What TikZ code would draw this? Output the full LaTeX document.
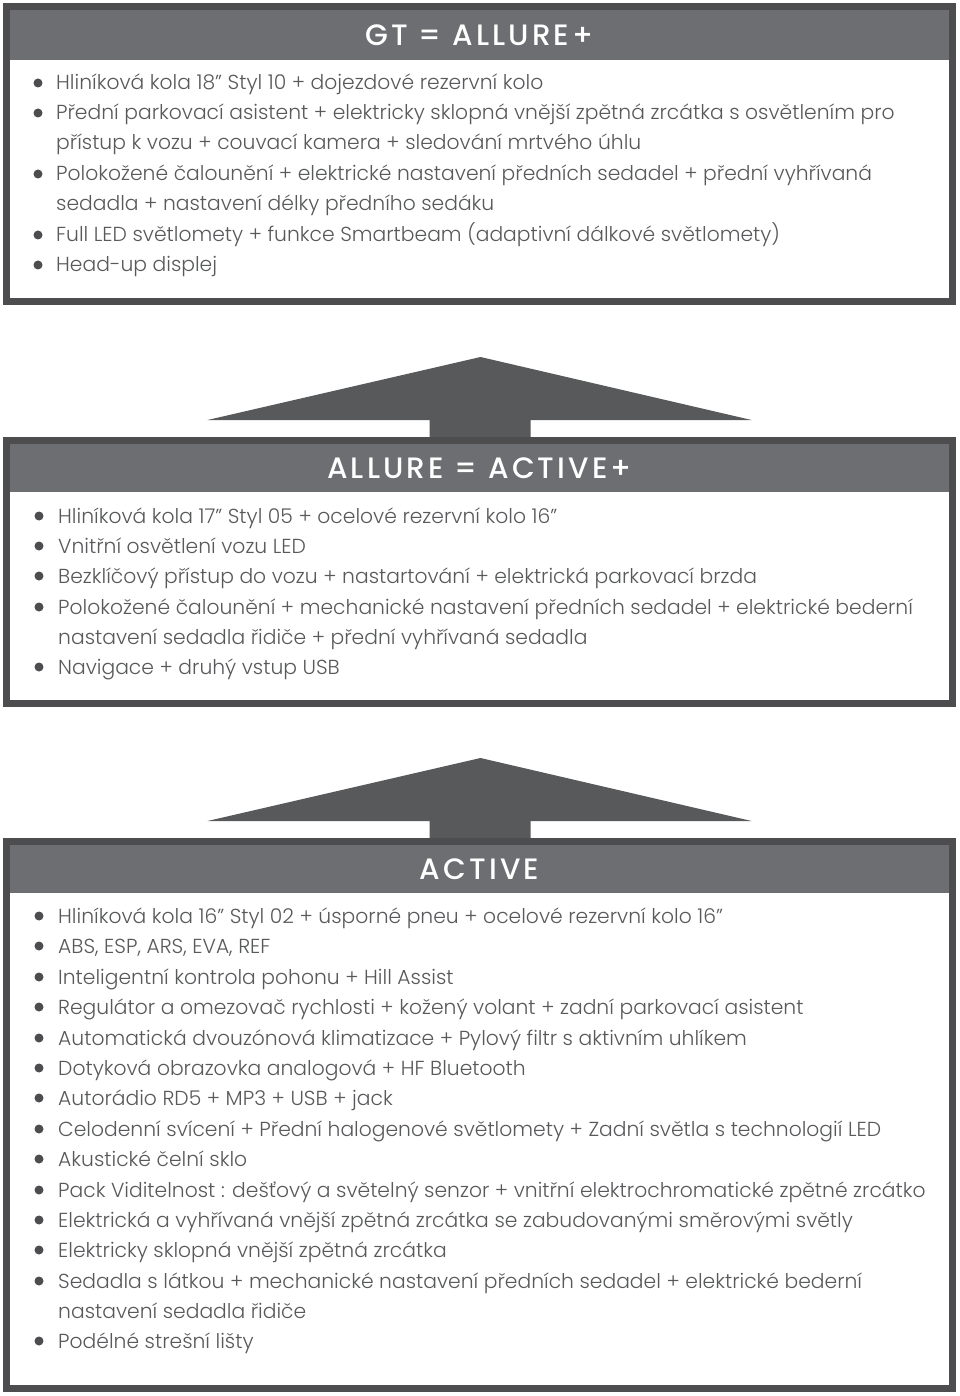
\documentclass[tikz,border=0pt]{standalone}
\usepackage{fontspec}
\setmainfont{Poppins Light}[BoldFont=Poppins Medium]
\usetikzlibrary{positioning}
\definecolor{framegray}{HTML}{4D4D4F}
\definecolor{headgray}{HTML}{6D6E71}
\definecolor{arrowgray}{HTML}{58595B}
\definecolor{textgray}{HTML}{58595B}
\tikzset{
  panel/.style={draw=framegray, line width=7pt, fill=white, inner sep=0pt, outer sep=0pt, minimum width=946pt},
  headbar/.style={fill=headgray, inner sep=0pt, outer sep=0pt, minimum width=939pt, anchor=north},
  headtitle/.style={text=white, inner sep=0pt, font=\fontsize{29.5}{30}\selectfont\bfseries\addfontfeatures{LetterSpace=10.5}},
  itemtext/.style={anchor=base west, inner sep=0pt, text=textgray, font=\fontsize{20.3}{22}\selectfont},
  dot/.style={fill=framegray}
}
\begin{document}
\begin{tikzpicture}[x=1pt,y=-1pt]
    \useasboundingbox (0,0) rectangle (960,1396);
    \fill[white] (0,0) rectangle (960,1396);
    % GT
    \node[panel, minimum height=295pt] (gt) at (479.5,154) {};
    \node[headbar, minimum height=50pt] (gthead) at ([yshift=-3.5pt]gt.north) {};
    \node[headtitle] (gttitle) at (gthead) {GT = ALLURE+};
    \fill[dot] (38,83) circle (4.5pt);
    \node[itemtext] (gt1) at (56,90) {Hliníková kola 18” Styl 10 + dojezdové rezervní kolo};
    \fill[dot] (38,113) circle (4.5pt);
    \node[itemtext] (gt2) at (56,120) {Přední parkovací asistent + elektricky sklopná vnější zpětná zrcátka s osvětlením pro};
    \node[itemtext] (gt2b) at (56,150) {přístup k vozu + couvací kamera + sledování mrtvého úhlu};
    \fill[dot] (38,174) circle (4.5pt);
    \node[itemtext] (gt3) at (56,181) {Polokožené čalounění + elektrické nastavení předních sedadel + přední vyhřívaná};
    \node[itemtext] (gt3b) at (56,211) {sedadla + nastavení délky předního sedáku};
    \fill[dot] (38,235) circle (4.5pt);
    \node[itemtext] (gt4) at (56,242) {Full LED světlomety + funkce Smartbeam (adaptivní dálkové světlomety)};
    \fill[dot] (38,265) circle (4.5pt);
    \node[itemtext] (gt5) at (56,272) {Head-up displej};
    % ALLURE
    \node[panel, minimum height=263pt] (allure) at (479.5,572) {};
    \node[headbar, minimum height=48pt] (allurehead) at ([yshift=-3.5pt]allure.north) {};
    \node[headtitle] (alluretitle) at (allurehead) {ALLURE = ACTIVE+};
    \fill[arrowgray] ([xshift=-50pt,yshift=3.5pt]allure.north) -- ++(0,-17) -- ++(-222,0)
        -- ++(273,-63) -- ++(271,63) -- ++(-221,0) -- ++(0,17) -- cycle;
    \fill[dot] (39,516) circle (4.5pt);
    \node[itemtext] (al1) at (58,523) {Hliníková kola 17” Styl 05 + ocelové rezervní kolo 16”};
    \fill[dot] (39,546) circle (4.5pt);
    \node[itemtext] (al2) at (58,553) {Vnitřní osvětlení vozu LED};
    \fill[dot] (39,576) circle (4.5pt);
    \node[itemtext] (al3) at (58,583) {Bezklíčový přístup do vozu + nastartování + elektrická parkovací brzda};
    \fill[dot] (39,607) circle (4.5pt);
    \node[itemtext] (al4) at (58,614) {Polokožené čalounění + mechanické nastavení předních sedadel + elektrické bederní};
    \node[itemtext] (al4b) at (58,644) {nastavení sedadla řidiče + přední vyhřívaná sedadla};
    \fill[dot] (39,667) circle (4.5pt);
    \node[itemtext] (al5) at (58,674) {Navigace + druhý vstup USB};
    % ACTIVE
    \node[panel, minimum height=547pt] (active) at (479.5,1115) {};
    \node[headbar, minimum height=48pt] (activehead) at ([yshift=-3.5pt]active.north) {};
    \node[headtitle] (activetitle) at (activehead) {ACTIVE};
    \fill[arrowgray] ([xshift=-50pt,yshift=3.5pt]active.north) -- ++(0,-17) -- ++(-222,0)
        -- ++(273,-63) -- ++(271,63) -- ++(-221,0) -- ++(0,17) -- cycle;
    \fill[dot] (39,916) circle (4.5pt);
    \node[itemtext] (ac1) at (58,923) {Hliníková kola 16” Styl 02 + úsporné pneu + ocelové rezervní kolo 16”};
    \fill[dot] (39,946) circle (4.5pt);
    \node[itemtext] (ac2) at (58,953) {ABS, ESP, ARS, EVA, REF};
    \fill[dot] (39,977) circle (4.5pt);
    \node[itemtext] (ac3) at (58,984) {Inteligentní kontrola pohonu + Hill Assist};
    \fill[dot] (39,1007) circle (4.5pt);
    \node[itemtext] (ac4) at (58,1014) {Regulátor a omezovač rychlosti + kožený volant + zadní parkovací asistent};
    \fill[dot] (39,1038) circle (4.5pt);
    \node[itemtext] (ac5) at (58,1045) {Automatická dvouzónová klimatizace + Pylový filtr s aktivním uhlíkem};
    \fill[dot] (39,1068) circle (4.5pt);
    \node[itemtext] (ac6) at (58,1075) {Dotyková obrazovka analogová + HF Bluetooth};
    \fill[dot] (39,1098) circle (4.5pt);
    \node[itemtext] (ac7) at (58,1105) {Autorádio RD5 + MP3 + USB + jack};
    \fill[dot] (39,1129) circle (4.5pt);
    \node[itemtext] (ac8) at (58,1136) {Celodenní svícení + Přední halogenové světlomety + Zadní světla s technologií LED};
    \fill[dot] (39,1159) circle (4.5pt);
    \node[itemtext] (ac9) at (58,1166) {Akustické čelní sklo};
    \fill[dot] (39,1190) circle (4.5pt);
    \node[itemtext] (ac10) at (58,1197) {Pack Viditelnost : dešťový a světelný senzor + vnitřní elektrochromatické zpětné zrcátko};
    \fill[dot] (39,1220) circle (4.5pt);
    \node[itemtext] (ac11) at (58,1227) {Elektrická a vyhřívaná vnější zpětná zrcátka se zabudovanými směrovými světly};
    \fill[dot] (39,1250) circle (4.5pt);
    \node[itemtext] (ac12) at (58,1257) {Elektricky sklopná vnější zpětná zrcátka};
    \fill[dot] (39,1281) circle (4.5pt);
    \node[itemtext] (ac13) at (58,1288) {Sedadla s látkou + mechanické nastavení předních sedadel + elektrické bederní};
    \node[itemtext] (ac13b) at (58,1318) {nastavení sedadla řidiče};
    \fill[dot] (39,1341) circle (4.5pt);
    \node[itemtext] (ac14) at (58,1348) {Podélné strešní lišty};
\end{tikzpicture}
\end{document}
